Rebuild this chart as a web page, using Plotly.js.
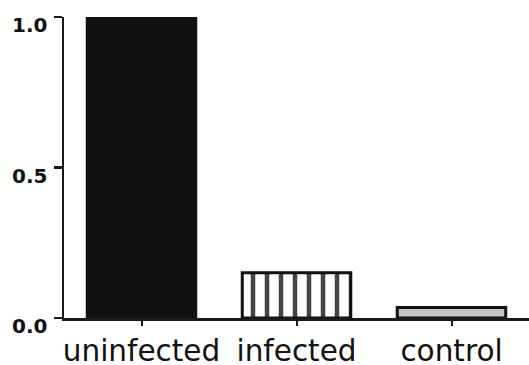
<!DOCTYPE html>
<html>
<head>
<meta charset="utf-8">
<script src="https://cdn.plot.ly/plotly-3.0.1.min.js"></script>
<style>html,body{margin:0;padding:0;background:#fff}#chart{width:529px;height:365px}</style>
</head>
<body>
<div id="chart"></div>
<script>
var categories = ["uninfected", "infected", "control"];
var values = [1.0, 0.15, 0.035];
var yTickValues = [0, 0.5, 1.0];
var yTickLabels = ["0.0", "0.5", "1.0"];

var trace = {
  type: "bar",
  x: categories,
  y: values,
  width: 0.7,
  marker: {
    color: ["#111111", "#ffffff", "#c4c4c4"],
    line: {color: "#111111", width: 3},
    pattern: {
      shape: ["", "|", ""],
      size: 14,
      solidity: 0.32,
      fgcolor: "#000000",
      fgopacity: 1,
      fillmode: "overlay"
    }
  },
  hoverinfo: "none"
};

var layout = {
  width: 529,
  height: 365,
  margin: {l: 64, r: 0, t: 17, b: 47},
  paper_bgcolor: "#ffffff",
  plot_bgcolor: "#ffffff",
  showlegend: false,
  bargap: 0.3,
  xaxis: {
    type: "category",
    range: [-0.5, 2.5],
    showline: true,
    linecolor: "#1a1a1a",
    linewidth: 2.5,
    ticks: "outside",
    ticklen: 5,
    tickwidth: 2,
    tickcolor: "#1a1a1a",
    showgrid: false,
    zeroline: false,
    tickfont: {family: "DejaVu Sans", size: 29.5, color: "#111111"},
    fixedrange: true
  },
  yaxis: {
    range: [0, 1],
    tickvals: yTickValues,
    ticktext: yTickLabels,
    showline: true,
    linecolor: "#1a1a1a",
    linewidth: 2.5,
    ticks: "outside",
    ticklen: 8,
    tickwidth: 2.5,
    tickcolor: "#1a1a1a",
    showgrid: false,
    zeroline: false,
    ticklabelshift: 8,
    ticklabelstandoff: 2,
    tickfont: {family: "DejaVu Sans", size: 20, color: "#111111", weight: "bold"},
    fixedrange: true
  }
};

Plotly.newPlot("chart", [trace], layout, {displayModeBar: false, staticPlot: true});
</script>
</body>
</html>
